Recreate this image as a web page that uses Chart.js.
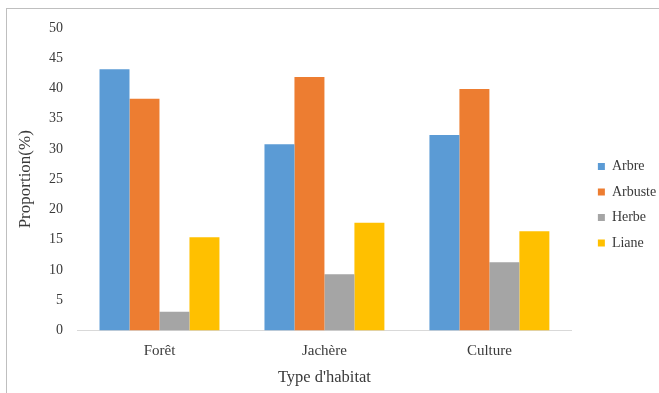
<!DOCTYPE html>
<html>
<head>
<meta charset="utf-8">
<script src="https://cdn.jsdelivr.net/npm/chart.js@4.4.1/dist/chart.umd.min.js"></script>
<style>
  html, body { margin: 0; padding: 0; background: #fff; }
  #wrap { position: relative; width: 659px; height: 393px; overflow: hidden; }
  #frame { position: absolute; left: 6px; top: 8px; width: 700px; height: 400px;
           border-left: 1px solid #bfbfbf; border-top: 1px solid #bfbfbf; pointer-events: none; }
  canvas { position: absolute; left: 0; top: 0; }
</style>
</head>
<body>
<div id="wrap">
  <canvas id="c" width="659" height="393"></canvas>
  <div id="frame"></div>
</div>
<script>
const habitats = ['Forêt', 'Jachère', 'Culture'];
const arbre   = [43.2, 30.8, 32.3];
const arbuste = [38.3, 41.9, 39.9];
const herbe   = [3.1, 9.3, 11.3];
const liane   = [15.4, 17.8, 16.4];

const serif = '"Liberation Serif", "Times New Roman", serif';
const textColor = '#3a3a3a';

// Moves the legend block a little to the right of its default slot
const legendNudge = {
  id: 'legendNudge',
  afterLayout(chart) {
    const l = chart.legend;
    if (!l) return;
    l.left += 14.5; l.right += 14.5;
    l.top -= 3; l.bottom -= 3;
  }
};

new Chart(document.getElementById('c'), {
  type: 'bar',
  data: {
    labels: habitats,
    datasets: [
      { label: 'Arbre',   data: arbre,   backgroundColor: '#5b9bd5' },
      { label: 'Arbuste', data: arbuste, backgroundColor: '#ed7d31' },
      { label: 'Herbe',   data: herbe,   backgroundColor: '#a5a5a5' },
      { label: 'Liane',   data: liane,   backgroundColor: '#ffc000' }
    ]
  },
  plugins: [legendNudge],
  options: {
    responsive: false,
    animation: false,
    layout: { padding: { top: 28, left: 15, right: 7.3, bottom: 5.5 } },
    datasets: { bar: { barPercentage: 1.0, categoryPercentage: 0.727 } },
    plugins: {
      tooltip: { enabled: false },
      legend: {
        position: 'right',
        labels: {
          font: { family: serif, size: 14 },
          color: textColor,
          boxWidth: 7,
          boxHeight: 7,
          padding: 11.5
        }
      }
    },
    scales: {
      x: {
        afterFit(scale) { scale.height = 57; },
        grid: { display: false, drawTicks: false },
        border: { display: true, color: '#d9d9d9', width: 1 },
        ticks: { font: { family: serif, size: 15 }, color: textColor, padding: 11.5 },
        title: { display: true, text: "Type d'habitat", font: { family: serif, size: 16.5 }, color: textColor, padding: { top: 7.7, bottom: 0 } }
      },
      y: {
        afterFit(scale) { scale.width = 62; },
        min: 0, max: 50,
        grid: { display: false, drawTicks: false },
        border: { display: false },
        ticks: { stepSize: 5, font: { family: serif, size: 14 }, color: textColor, padding: 14 },
        title: { display: true, text: 'Proportion(%)', font: { family: serif, size: 17 }, color: textColor, padding: { top: 0, bottom: 13.6 } }
      }
    }
  }
});
</script>
</body>
</html>
